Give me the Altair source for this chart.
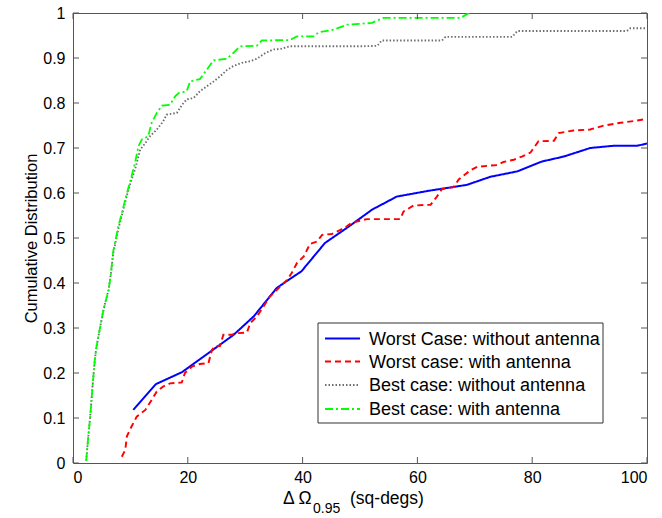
import altair as alt
import pandas as pd

# ---- data ----
series_names = ["Worst Case: without antenna", "Worst case: with antenna",
                "Best case: without antenna", "Best case: with antenna"]

worst_wo_x = [10.5, 14.4, 19.0, 24.0, 28.0, 31.5, 35.5, 37.8, 39.8, 43.9, 48.0, 52.1, 56.4, 62.0,
              68.6, 72.7, 77.4, 81.7, 85.5, 90.1, 94.2, 98.3, 100]
worst_wo_y = [0.118, 0.175, 0.202, 0.248, 0.285, 0.326, 0.389, 0.409, 0.426, 0.489, 0.525, 0.563,
              0.592, 0.605, 0.618, 0.636, 0.648, 0.670, 0.681, 0.700, 0.705, 0.705, 0.710]

worst_w_x = [8.5, 9.1, 9.4, 10.2, 11.1, 12.6, 13.7, 14.6, 15.7, 16.9, 18.95, 19.5, 20.7, 22.1, 23.6,
             24.2, 24.8, 25.6, 26.2, 27.7, 28.2, 30.3, 30.9, 32.0, 33.2, 34.3, 36.1, 37.3, 38.1, 39.0,
             40.2, 41.3, 42.5, 43.4, 45.1, 46.6, 47.7, 48.6, 51.2, 57.0, 57.6, 59.3, 62.3, 63.4, 64.3,
             66.3, 67.2, 69.2, 70.4, 72.7, 73.9, 75.0, 76.8, 78.2, 79.7, 81.1, 83.8, 84.6, 87.2, 90.1,
             92.5, 95.4, 98.3, 100]
worst_w_y = [0.014, 0.029, 0.06, 0.081, 0.103, 0.118, 0.14, 0.159, 0.17, 0.177, 0.179, 0.2, 0.214,
             0.22, 0.222, 0.251, 0.26, 0.26, 0.285, 0.285, 0.288, 0.29, 0.311, 0.325, 0.348, 0.37,
             0.392, 0.407, 0.422, 0.444, 0.459, 0.487, 0.492, 0.507, 0.509, 0.518, 0.526, 0.534,
             0.542, 0.542, 0.559, 0.572, 0.574, 0.592, 0.609, 0.613, 0.630, 0.650, 0.658, 0.661,
             0.662, 0.669, 0.674, 0.681, 0.690, 0.715, 0.716, 0.733, 0.739, 0.741, 0.75, 0.756,
             0.761, 0.765]

best_wo_x = [2.3, 2.6, 3.0, 3.4, 3.8, 4.1, 4.7, 5.3, 6.2, 6.6, 7.0, 7.9, 8.8, 9.4, 10.2, 10.8, 11.7,
             12.6, 13.4, 14.6, 15.7, 16.3, 18.1, 19.0, 19.8, 21.0, 22.1, 23.3, 24.5, 25.6, 26.8, 27.9,
             29.4, 30.9, 32.0, 33.5, 34.9, 36.1, 37.8, 50.0, 53.0, 53.8, 64.3, 64.9, 76.5, 77.4, 96.5,
             97.1, 100]
best_wo_y = [0.005, 0.05, 0.103, 0.17, 0.229, 0.259, 0.30, 0.34, 0.385, 0.42, 0.465, 0.52, 0.565,
             0.595, 0.63, 0.652, 0.696, 0.711, 0.726, 0.741, 0.759, 0.774, 0.778, 0.796, 0.808, 0.811,
             0.826, 0.837, 0.848, 0.859, 0.873, 0.882, 0.889, 0.893, 0.898, 0.911, 0.919, 0.92, 0.926,
             0.926, 0.927, 0.939, 0.939, 0.947, 0.947, 0.96, 0.96, 0.966, 0.966]

best_w_x = [2.3, 2.6, 3.0, 3.4, 3.8, 4.1, 4.7, 5.3, 6.2, 6.6, 7.0, 7.9, 8.8, 9.4, 10.2, 10.8, 11.4,
            12.0, 13.1, 13.7, 14.6, 15.5, 16.9, 17.8, 18.4, 19.8, 20.4, 22.1, 23.3, 24.5, 26.8, 27.9,
            29.1, 32.0, 32.9, 37.8, 39.0, 41.9, 42.8, 45.4, 47.7, 50.0, 52.1, 53.5, 54.1, 67.5, 68.6,
            69.0]
best_w_y = [0.005, 0.05, 0.103, 0.17, 0.229, 0.259, 0.30, 0.34, 0.385, 0.42, 0.47, 0.526, 0.57, 0.6,
            0.637, 0.667, 0.704, 0.719, 0.726, 0.756, 0.778, 0.794, 0.796, 0.815, 0.822, 0.826, 0.848,
            0.853, 0.874, 0.895, 0.898, 0.911, 0.926, 0.927, 0.939, 0.94, 0.948, 0.948, 0.957, 0.963,
            0.974, 0.976, 0.978, 0.986, 0.989, 0.989, 0.997, 1.0]

x_ticks = [0, 20, 40, 60, 80, 100]
y_ticks = [0, 0.1, 0.2, 0.3, 0.4, 0.5, 0.6, 0.7, 0.8, 0.9, 1.0]

series_colors = ["#0000ff", "#ff0000", "#6e6e6e", "#00ff00"]
series_dash = [[1, 0], [6, 4], [1.5, 2], [8, 3, 2, 3]]
series_width = [2, 1.8, 1.2, 2]

# ---- build table ----
rows = []
for name, xs, ys in zip(series_names,
                        [worst_wo_x, worst_w_x, best_wo_x, best_w_x],
                        [worst_wo_y, worst_w_y, best_wo_y, best_w_y]):
    for i, (xv, yv) in enumerate(zip(xs, ys)):
        rows.append({"series": name, "x": xv, "y": yv, "i": i})
df = pd.DataFrame(rows)

W, H = 574, 450
FONT = "Liberation Sans"

xscale = alt.Scale(domain=[0, 100], nice=False, zero=False)
yscale = alt.Scale(domain=[0, 1], nice=False, zero=False)
color_scale = alt.Scale(domain=series_names, range=series_colors)
dash_scale = alt.Scale(domain=series_names, range=series_dash)
width_scale = alt.Scale(domain=series_names, range=series_width)

lines = alt.Chart(df).mark_line(clip=True).encode(
    x=alt.X("x:Q", scale=xscale,
            axis=alt.Axis(values=x_ticks, ticks=False, domain=False, grid=False,
                          labelFont=FONT, labelFontSize=16, labelColor="black",
                          labelPadding=6, title=None)),
    y=alt.Y("y:Q", scale=yscale,
            axis=alt.Axis(values=y_ticks, ticks=False, domain=False, grid=False, format="~g",
                          labelFont=FONT, labelFontSize=16, labelColor="black",
                          labelPadding=8, title="Cumulative  Distribution",
                          titleFont=FONT, titleFontSize=16.5, titleFontWeight="normal",
                          titleColor="black", titlePadding=3)),
    color=alt.Color("series:N", scale=color_scale, legend=None),
    strokeDash=alt.StrokeDash("series:N", scale=dash_scale, legend=None),
    strokeWidth=alt.StrokeWidth("series:N", scale=width_scale, legend=None),
    order="i:Q",
)

xt = pd.DataFrame({"v": x_ticks})
yt = pd.DataFrame({"v": y_ticks})
tick_color = "#555555"
tk = 6
x_bot = alt.Chart(xt).mark_rule(color=tick_color).encode(
    x=alt.X("v:Q", scale=xscale), y=alt.value(H), y2=alt.value(H - tk))
x_top = alt.Chart(xt).mark_rule(color=tick_color).encode(
    x=alt.X("v:Q", scale=xscale), y=alt.value(0), y2=alt.value(tk))
y_left = alt.Chart(yt).mark_rule(color=tick_color).encode(
    y=alt.Y("v:Q", scale=yscale), x=alt.value(0), x2=alt.value(tk))
y_right = alt.Chart(yt).mark_rule(color=tick_color).encode(
    y=alt.Y("v:Q", scale=yscale), x=alt.value(W - tk), x2=alt.value(W))

# x-axis title with subscript
t_main = alt.Chart(pd.DataFrame({"t": ["Δ Ω"]})).mark_text(
    align="left", baseline="alphabetic", font=FONT, fontSize=17.5, color="black").encode(
    text="t:N", x=alt.value(210), y=alt.value(491))
t_sub = alt.Chart(pd.DataFrame({"t": ["0.95"]})).mark_text(
    align="left", baseline="alphabetic", font=FONT, fontSize=14, color="black").encode(
    text="t:N", x=alt.value(240), y=alt.value(500))
t_unit = alt.Chart(pd.DataFrame({"t": ["(sq-degs)"]})).mark_text(
    align="left", baseline="alphabetic", font=FONT, fontSize=17.5, color="black").encode(
    text="t:N", x=alt.value(277), y=alt.value(491))

# legend box (drawn as a boxed key like the original)
LX0, LX1, LY0, LY1 = 245, 530, 310, 410
row_y = [325.5, 348.5, 372, 396]
leg_df = pd.DataFrame({"series": series_names, "ry": row_y})
leg_box = alt.Chart(pd.DataFrame({"b": [0]})).mark_rect(
    fill="white", stroke="#333333", strokeWidth=1).encode(
    x=alt.value(LX0), x2=alt.value(LX1), y=alt.value(LY0), y2=alt.value(LY1))
leg_layers = [leg_box]
for name, ry in zip(series_names, row_y):
    sub = leg_df[leg_df.series == name]
    leg_layers.append(
        alt.Chart(sub).mark_rule().encode(
            x=alt.value(252), x2=alt.value(287), y=alt.value(ry),
            color=alt.Color("series:N", scale=color_scale, legend=None),
            strokeDash=alt.StrokeDash("series:N", scale=dash_scale, legend=None),
            strokeWidth=alt.StrokeWidth("series:N", scale=width_scale, legend=None)))
    leg_layers.append(
        alt.Chart(sub).mark_text(align="left", baseline="middle", font=FONT, fontSize=18,
                                 color="black").encode(
            text="series:N", x=alt.value(296), y=alt.value(ry + 1)))

chart = alt.layer(lines, x_bot, x_top, y_left, y_right, t_main, t_sub, t_unit,
                  *leg_layers).properties(
    width=W, height=H,
    autosize=alt.AutoSizeParams(type="none"),
    padding={"left": 73, "top": 13, "right": 15, "bottom": 55},
    background="white",
).configure_view(stroke="#555555", strokeWidth=1)

chart.save("out.html", embed_options={"renderer": "svg", "actions": False})
